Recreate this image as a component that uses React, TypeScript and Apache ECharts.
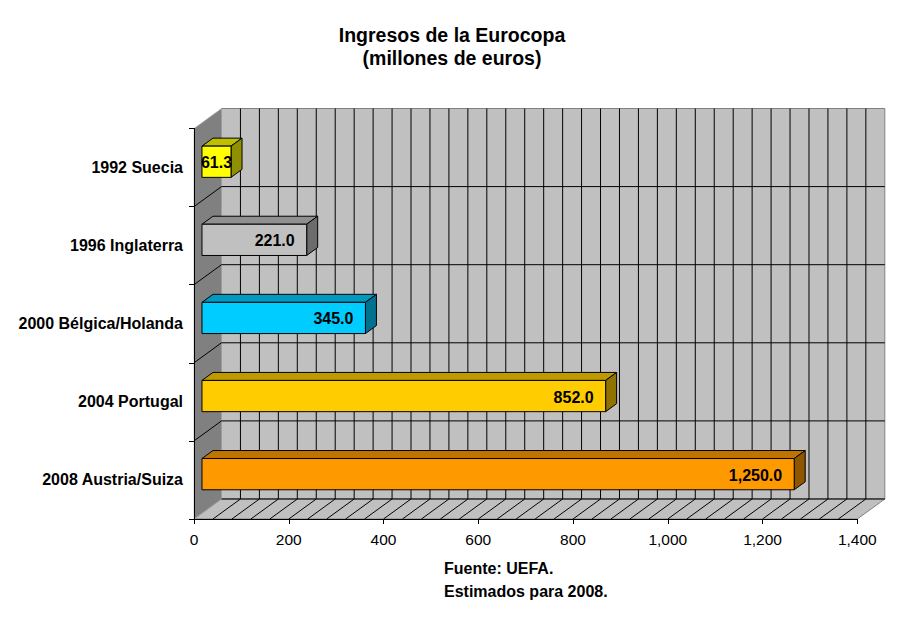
import React, { useEffect, useRef } from "react";
import * as echarts from "echarts";

// ---- data ----
const categories = [
  "1992 Suecia",
  "1996 Inglaterra",
  "2000 Bélgica/Holanda",
  "2004 Portugal",
  "2008 Austria/Suiza",
];
const revenues = [61.3, 221.0, 345.0, 852.0, 1250.0];
const faceColors = ["#FFFF00", "#C0C0C0", "#00CCFF", "#FFCC00", "#FF9900"];
const xMin = 0;
const xMax = 1400;
const xInterval = 200;
const wallGridStep = 40;
const titleText = "Ingresos de la Eurocopa\n(millones de euros)";
const noteLines = ["Fuente: UEFA.", "Estimados para 2008."];

// ---- 3D look ----
const DX = 27.5;
const DY = -20;
const BAR_FRONT = 0.29;
const BAR_BACK = 0.69;
const BAR_RATIO = 0.4;
const FONT = '"Liberation Sans", Arial, sans-serif';

function shade(hex: string, f: number): string {
  const n = parseInt(hex.slice(1), 16);
  const r = Math.round(((n >> 16) & 255) * f);
  const g = Math.round(((n >> 8) & 255) * f);
  const b = Math.round((n & 255) * f);
  return `rgb(${r},${g},${b})`;
}

const fmt1 = (v: number) =>
  v.toLocaleString("en-US", { minimumFractionDigits: 1, maximumFractionDigits: 1 });

export default function App() {
  const ref = useRef<HTMLDivElement>(null);

  useEffect(() => {
    if (!ref.current) return;
    const chart = echarts.init(ref.current, null, { renderer: "svg" });
    const nCat = categories.length;

    const wallsRender = (params: any, api: any) => {
      const cs = params.coordSys;
      const x0 = cs.x;
      const y0 = cs.y;
      const x1 = cs.x + cs.width;
      const y1 = cs.y + cs.height;
      const children: any[] = [];
      // back wall
      children.push({
        type: "rect",
        shape: { x: x0 + DX, y: y0 + DY, width: x1 - x0, height: y1 - y0 },
        style: { fill: "#C0C0C0", stroke: "#808080", lineWidth: 1 },
      });
      // floor
      children.push({
        type: "polygon",
        shape: {
          points: [
            [x0, y1],
            [x1, y1],
            [x1 + DX, y1 + DY],
            [x0 + DX, y1 + DY],
          ],
        },
        style: { fill: "#C0C0C0", stroke: "#808080", lineWidth: 1 },
      });
      // left wall
      children.push({
        type: "polygon",
        shape: {
          points: [
            [x0, y0],
            [x0 + DX, y0 + DY],
            [x0 + DX, y1 + DY],
            [x0, y1],
          ],
        },
        style: { fill: "#808080", stroke: "#B0B0B0", lineWidth: 0.6 },
      });
      // vertical grid on back wall + floor diagonals
      for (let v = xMin + wallGridStep; v < xMax; v += wallGridStep) {
        const px = api.coord([v, 0])[0];
        children.push({
          type: "line",
          shape: { x1: px + DX, y1: y0 + DY, x2: px + DX, y2: y1 + DY },
          style: { stroke: "#000", lineWidth: 1 },
        });
        children.push({
          type: "line",
          shape: { x1: px, y1: y1, x2: px + DX, y2: y1 + DY },
          style: { stroke: "#000", lineWidth: 1 },
        });
      }
      // horizontal grid on back wall + left wall diagonals
      for (let i = 1; i <= nCat; i++) {
        const py = y0 + (i * (y1 - y0)) / nCat;
        children.push({
          type: "line",
          shape: { x1: x0 + DX, y1: py + DY, x2: x1 + DX, y2: py + DY },
          style: { stroke: "#000", lineWidth: 1 },
        });
        if (i < nCat) {
          children.push({
            type: "line",
            shape: { x1: x0, y1: py, x2: x0 + DX, y2: py + DY },
            style: { stroke: "#000", lineWidth: 1 },
          });
        }
      }
      return { type: "group", children };
    };

    const barsRender = (params: any, api: any) => {
      const v = api.value(0);
      const idx = api.value(1);
      const start = api.coord([0, idx]);
      const end = api.coord([v, idx]);
      const band = api.size([0, 1])[1];
      const bh = band * BAR_RATIO;
      const fx = DX * BAR_FRONT;
      const fy = DY * BAR_FRONT;
      const ddx = DX * (BAR_BACK - BAR_FRONT);
      const ddy = DY * (BAR_BACK - BAR_FRONT);
      const xs = start[0] + fx;
      const xe = end[0] + fx;
      const yc = start[1] + fy;
      const yt = yc - bh / 2;
      const yb = yc + bh / 2;
      const color = faceColors[params.dataIndex];
      const narrow = xe - xs < 50;
      return {
        type: "group",
        children: [
          {
            type: "polygon",
            shape: {
              points: [
                [xs, yt],
                [xe, yt],
                [xe + ddx, yt + ddy],
                [xs + ddx, yt + ddy],
              ],
            },
            style: { fill: shade(color, 0.75), stroke: "#000", lineWidth: 1 },
          },
          {
            type: "polygon",
            shape: {
              points: [
                [xe, yt],
                [xe + ddx, yt + ddy],
                [xe + ddx, yb + ddy],
                [xe, yb],
              ],
            },
            style: { fill: shade(color, 0.56), stroke: "#000", lineWidth: 1 },
          },
          {
            type: "rect",
            shape: { x: xs, y: yt, width: xe - xs, height: bh },
            style: { fill: color, stroke: "#000", lineWidth: 1 },
          },
          {
            type: "text",
            x: narrow ? xs - 1 : xe - 12,
            y: yc + 1,
            style: {
              text: fmt1(v),
              font: `bold 16px ${FONT}`,
              fill: "#000",
              align: narrow ? "left" : "right",
              verticalAlign: "middle",
            },
          },
        ],
      };
    };

    chart.setOption({
      animation: false,
      backgroundColor: "#FFFFFF",
      title: {
        text: titleText,
        left: "center",
        top: 18,
        textStyle: {
          fontFamily: FONT,
          fontSize: 19.5,
          fontWeight: "bold",
          color: "#000",
          lineHeight: 23,
        },
      },
      grid: {
        left: 194,
        right: 46.7,
        top: 128.5,
        bottom: 107,
        containLabel: false,
        outerBoundsMode: "none",
      },
      xAxis: {
        type: "value",
        min: xMin,
        max: xMax,
        interval: xInterval,
        z: 10,
        axisLine: { show: true, lineStyle: { color: "#000", width: 1 } },
        axisTick: { show: true, length: 5, lineStyle: { color: "#000" } },
        splitLine: { show: false },
        axisLabel: {
          fontFamily: FONT,
          fontSize: 15.5,
          color: "#000",
          margin: 12,
          formatter: (val: number) => val.toLocaleString("en-US"),
        },
      },
      yAxis: {
        type: "category",
        data: categories,
        inverse: true,
        z: 10,
        axisLine: { show: true, lineStyle: { color: "#000", width: 1 } },
        axisTick: { show: true, length: 5, lineStyle: { color: "#000" } },
        splitLine: { show: false },
        axisLabel: {
          fontFamily: FONT,
          fontSize: 16,
          fontWeight: "bold",
          color: "#000",
          margin: 11,
        },
      },
      graphic: [
        {
          type: "text",
          left: 444,
          top: 557,
          style: {
            text: noteLines.join("\n"),
            font: `bold 16px ${FONT}`,
            lineHeight: 23,
            fill: "#000",
          },
        },
      ],
      series: [
        {
          type: "custom",
          z: 1,
          silent: true,
          renderItem: wallsRender,
          data: [[0, 0]],
          encode: { x: 0, y: 1 },
        },
        {
          type: "custom",
          z: 3,
          renderItem: barsRender,
          data: revenues.map((v, i) => [v, i]),
          encode: { x: 0, y: 1 },
        },
      ],
    });

    return () => chart.dispose();
  }, []);

  return (
    <div
      ref={ref}
      style={{ position: "fixed", left: 0, top: 0, width: 904, height: 626, background: "#fff" }}
    />
  );
}
